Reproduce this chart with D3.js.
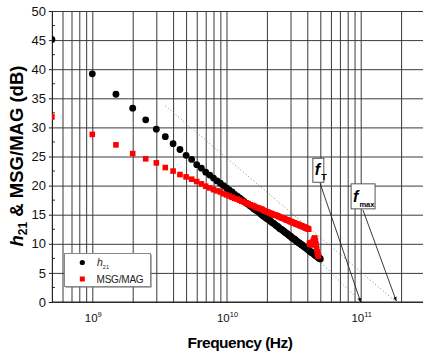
<!DOCTYPE html>
<html>
<head>
<meta charset="utf-8">
<script src="https://cdn.jsdelivr.net/npm/d3@7"></script>
<style>
  body { margin: 0; background: #fff; }
  svg { display: block; font-family: "Liberation Sans", Arial, sans-serif; }
  .grid line { stroke: #3a3a3a; stroke-width: 1; }
  .grid path { display: none; }
</style>
</head>
<body>
<div id="chart"></div>
<script>
// measured frequency points (GHz)
var freqGHz = [
  0.5, 1, 1.5, 2, 2.5, 3, 3.5, 4, 4.5, 5,
  5.5, 6, 6.5, 7, 7.5, 8, 8.5, 9, 9.5, 10,
  10.5, 11, 11.5, 12, 12.5, 13, 13.5, 14, 14.5, 15,
  15.5, 16, 16.5, 17, 17.5, 18, 18.5, 19, 19.5, 20,
  20.5, 21, 21.5, 22, 22.5, 23, 23.5, 24, 24.5, 25,
  25.5, 26, 26.5, 27, 27.5, 28, 28.5, 29, 29.5, 30,
  30.5, 31, 31.5, 32, 32.5, 33, 33.5, 34, 34.5, 35,
  35.5, 36, 36.5, 37, 37.5, 38, 38.5, 39, 39.5, 40,
  40.5, 41, 41.5, 42, 42.5, 43, 43.5, 44, 44.5, 45,
  45.5, 46, 46.5, 47, 47.5, 48, 48.5, 49, 49.5, 50
];

// |h21| in dB
var h21 = [
  45.1, 39.2, 35.7, 33.3, 31.3, 29.7, 28.4, 27.2, 26.2, 25.2,
  24.5, 23.6, 23.0, 22.3, 21.8, 21.3, 20.8, 20.4, 20.0, 19.6,
  19.2, 18.9, 18.5, 18.2, 17.9, 17.6, 17.3, 17.0, 16.8, 16.5,
  16.3, 16.0, 15.8, 15.6, 15.4, 15.1, 14.9, 14.7, 14.5, 14.3,
  14.2, 14.0, 13.8, 13.6, 13.5, 13.3, 13.1, 13.0, 12.8, 12.6,
  12.5, 12.4, 12.2, 12.1, 11.9, 11.8, 11.7, 11.5, 11.4, 11.3,
  11.1, 11.0, 10.9, 10.8, 10.7, 10.5, 10.4, 10.3, 10.2, 10.1,
  10.0, 9.9, 9.8, 9.7, 9.6, 9.5, 9.4, 9.3, 9.2, 9.1,
  9.0, 8.9, 8.8, 8.7, 8.6, 8.5, 8.5, 8.4, 8.3, 8.2,
  8.1, 8.0, 7.9, 7.9, 7.8, 7.7, 7.6, 7.5, 7.5, 7.4
];

// MSG/MAG in dB (0.5 .. 48.5 GHz)
var msgMag = [
  31.8, 28.8, 27.0, 25.5, 24.6, 23.9, 23.1, 22.5, 21.9, 21.5,
  21.1, 20.7, 20.3, 19.9, 19.6, 19.3, 19.1, 18.9, 18.6, 18.4,
  18.2, 18.0, 17.8, 17.7, 17.5, 17.3, 17.2, 17.0, 16.9, 16.7,
  16.6, 16.5, 16.3, 16.2, 16.1, 16.0, 15.9, 15.7, 15.6, 15.5,
  15.4, 15.3, 15.2, 15.1, 15.0, 14.9, 14.9, 14.8, 14.7, 14.6,
  14.5, 14.4, 14.4, 14.3, 14.2, 14.1, 14.1, 14.0, 13.9, 13.8,
  13.8, 13.7, 13.6, 13.6, 13.5, 13.4, 13.4, 13.3, 13.3, 13.2,
  13.1, 13.1, 13.0, 13.0, 12.9, 12.9, 12.8, 12.7, 12.7, 12.6,
  12.6, 12.5, 10.1, 9.9, 10.2, 10.0, 9.8, 10.3, 10.6, 10.9,
  11.0, 10.5, 9.9, 9.2, 8.6, 8.0, 7.9
];

// -20 dB/dec extrapolation lines (Hz, dB)
var fmaxLine = [[3.5e9, 33.7], [1.84e11, 0]];
var ftLine = [[3.8e10, 9.6], [1.0e11, 0]];

// annotation anchors (Hz, dB): box top-left, arrow start, arrow tip
var ftNote = { box: [4.4e10, 24.7], from: [4.98e10, 20.4], to: [1.0e11, 0] };
var fmaxNote = { box: [8.48e10, 20.3], from: [1.04e11, 15.8], to: [1.84e11, 0.2] };

var yTicks = [0, 5, 10, 15, 20, 25, 30, 35, 40, 45, 50];
var yMinor = [2.5, 7.5, 12.5, 17.5, 22.5, 27.5, 32.5, 37.5, 42.5, 47.5];
var xLabelTicks = [1e9, 1e10, 1e11];

var W = 423, H = 354;
var plotLeft = 51.9, plotTop = 11, plotBottom = 302;

var x = d3.scaleLog().domain([5e8, 3e11]).range([plotLeft, plotLeft + 134.2 * Math.log10(600)]);
var y = d3.scaleLinear().domain([0, 50]).range([plotBottom, plotTop]);

var svg = d3.select("#chart").append("svg")
  .attr("width", W)
  .attr("height", H);

var defs = svg.append("defs");
defs.append("clipPath")
  .attr("id", "plot-clip")
  .append("rect")
  .attr("x", plotLeft).attr("y", plotTop - 4)
  .attr("width", W - plotLeft).attr("height", plotBottom - plotTop + 8);

defs.append("marker")
  .attr("id", "arrow")
  .attr("viewBox", "0 0 10 10")
  .attr("refX", 9).attr("refY", 5)
  .attr("markerWidth", 5).attr("markerHeight", 6)
  .attr("orient", "auto")
  .append("path")
  .attr("d", "M0,1 L10,5 L0,9 Z")
  .attr("fill", "#111");

// vertical grid (1..9 x 10^n)
svg.append("g")
  .attr("class", "grid")
  .attr("transform", "translate(0," + plotBottom + ")")
  .call(d3.axisBottom(x).tickSize(-(plotBottom - plotTop)).tickFormat(""));

// horizontal grid
svg.append("g")
  .attr("class", "grid")
  .attr("transform", "translate(" + plotLeft + ",0)")
  .call(d3.axisRight(y).tickValues(yTicks).tickSize(W - plotLeft).tickFormat(""));

// left axis with outward major ticks
var yAxis = svg.append("g")
  .attr("transform", "translate(" + plotLeft + ",0)")
  .call(d3.axisLeft(y).tickValues(yTicks).tickSize(3).tickPadding(3).tickFormat(d3.format("d")));
yAxis.select(".domain").attr("stroke", "#222");
yAxis.selectAll("line").attr("stroke", "#222");
yAxis.selectAll("text")
  .attr("font-size", 13)
  .attr("font-family", "Liberation Sans, Arial, sans-serif")
  .attr("fill", "#111");

// inward minor ticks
svg.append("g").selectAll("line")
  .data(yMinor)
  .enter().append("line")
  .attr("x1", plotLeft).attr("x2", plotLeft + 3)
  .attr("y1", function(d) { return y(d); })
  .attr("y2", function(d) { return y(d); })
  .attr("stroke", "#222");

// bottom axis line
svg.append("line")
  .attr("x1", plotLeft).attr("x2", W)
  .attr("y1", plotBottom).attr("y2", plotBottom)
  .attr("stroke", "#222");

// x tick labels 10^n
var xl = svg.append("g").selectAll("text")
  .data(xLabelTicks)
  .enter().append("text")
  .attr("x", function(d) { return x(d) + 1; })
  .attr("y", 322)
  .attr("text-anchor", "middle")
  .attr("font-size", 11.5)
  .attr("fill", "#111");
xl.append("tspan").text("10");
xl.append("tspan")
  .attr("dy", -5)
  .attr("font-size", 7.5)
  .text(function(d) { return Math.round(Math.log10(d)); });

// dotted extrapolation lines
var line = d3.line()
  .x(function(d) { return x(d[0]); })
  .y(function(d) { return y(d[1]); });

[fmaxLine, ftLine].forEach(function(l) {
  svg.append("path")
    .attr("d", line(l))
    .attr("fill", "none")
    .attr("stroke", "#777")
    .attr("stroke-width", 0.9)
    .attr("stroke-dasharray", "1,2.4");
});

// data
var plot = svg.append("g").attr("clip-path", "url(#plot-clip)");

plot.selectAll(".h21")
  .data(h21)
  .enter().append("circle")
  .attr("class", "h21")
  .attr("cx", function(d, i) { return x(freqGHz[i] * 1e9); })
  .attr("cy", function(d) { return y(d); })
  .attr("r", 3.4)
  .attr("fill", "#000");

plot.selectAll(".msg")
  .data(msgMag)
  .enter().append("rect")
  .attr("class", "msg")
  .attr("x", function(d, i) { return x(freqGHz[i] * 1e9) - 2.8; })
  .attr("y", function(d) { return y(d) - 2.8; })
  .attr("width", 5.6)
  .attr("height", 5.6)
  .attr("fill", "#ff0000");

// annotations: f_T and f_max
function note(n, w, h, sub, subSize) {
  svg.append("line")
    .attr("x1", x(n.from[0])).attr("y1", y(n.from[1]))
    .attr("x2", x(n.to[0])).attr("y2", y(n.to[1]))
    .attr("stroke", "#222")
    .attr("stroke-width", 0.9)
    .attr("marker-end", "url(#arrow)");
  var bx = x(n.box[0]), by = y(n.box[1]);
  svg.append("rect")
    .attr("x", bx).attr("y", by)
    .attr("width", w).attr("height", h)
    .attr("fill", "#fff")
    .attr("stroke", "#444")
    .attr("stroke-width", 0.9);
  var t = svg.append("text")
    .attr("x", bx + 2)
    .attr("y", by + h - 7)
    .attr("font-size", 16)
    .attr("font-weight", "bold")
    .attr("fill", "#000");
  t.append("tspan").attr("font-style", "italic").text("f");
  t.append("tspan")
    .attr("dy", 5)
    .attr("dx", 1)
    .attr("font-size", subSize)
    .text(sub);
}
note(ftNote, 11, 24, "T", 9);
note(fmaxNote, 24, 25, "max", 7.5);

// legend
var lg = svg.append("g");
lg.append("rect")
  .attr("x", 65.5).attr("y", 254.5)
  .attr("width", 86).attr("height", 33)
  .attr("fill", "#666");
lg.append("rect")
  .attr("x", 64.5).attr("y", 253.5)
  .attr("width", 86).attr("height", 33)
  .attr("fill", "#fff")
  .attr("stroke", "#888");
lg.append("circle")
  .attr("cx", 82.3).attr("cy", 262.5)
  .attr("r", 2.6)
  .attr("fill", "#000");
lg.append("rect")
  .attr("x", 79.8).attr("y", 276.5)
  .attr("width", 5).attr("height", 5)
  .attr("fill", "#ff0000");
var lt = lg.append("text")
  .attr("x", 97).attr("y", 265.5)
  .attr("font-size", 10.5)
  .attr("fill", "#222");
lt.append("tspan").attr("font-style", "italic").text("h");
lt.append("tspan").attr("dy", 3).attr("font-size", 5.5).text("21");
lg.append("text")
  .attr("x", 96.5).attr("y", 283)
  .attr("font-size", 10)
  .attr("letter-spacing", -0.2)
  .attr("fill", "#222")
  .text("MSG/MAG");

// axis titles
svg.append("text")
  .attr("x", 240).attr("y", 348)
  .attr("text-anchor", "middle")
  .attr("font-size", 15.5)
  .attr("font-weight", "bold")
  .attr("letter-spacing", -0.5)
  .attr("fill", "#000")
  .text("Frequency (Hz)");

var yt = svg.append("text")
  .attr("transform", "translate(23,156) rotate(-90)")
  .attr("text-anchor", "middle")
  .attr("font-size", 18.5)
  .attr("font-weight", "bold")
  .attr("fill", "#000");
yt.append("tspan").attr("font-style", "italic").text("h");
yt.append("tspan").attr("dy", 4).attr("font-size", 12).text("21");
yt.append("tspan").attr("dy", -4).text(" & MSG/MAG (dB)");
</script>
</body>
</html>
